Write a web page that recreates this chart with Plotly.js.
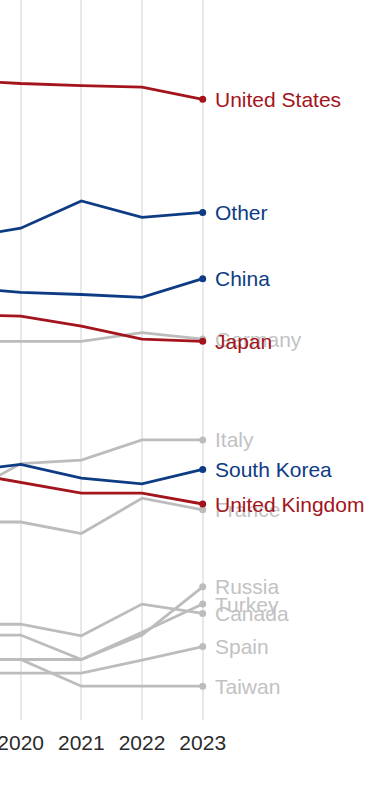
<!DOCTYPE html>
<html>
<head>
<meta charset="utf-8">
<script src="https://cdn.plot.ly/plotly-3.0.1.min.js"></script>
<style>html,body{margin:0;padding:0;background:#fff;}#chart{width:379px;height:800px;}</style>
</head>
<body>
<div id="chart"></div>
<script>
const years = [2019, 2020, 2021, 2022, 2023];
const tickYears = [2020, 2021, 2022, 2023];

// index values (higher = up)
const unitedStates = [88.9, 88.4, 88.1, 87.9, 86.2];
const other        = [66.9, 68.3, 72.1, 69.8, 70.5];
const china        = [60.1, 59.4, 59.1, 58.7, 61.3];
const japan        = [56.3, 56.1, 54.7, 52.9, 52.6];
const germany      = [52.6, 52.6, 52.6, 53.8, 52.9];
const italy        = [31.0, 35.6, 36.1, 38.9, 38.9];
const southKorea   = [34.5, 35.5, 33.6, 32.8, 34.8];
const unitedKingdom= [34.5, 33.0, 31.5, 31.5, 30.0];
const france       = [27.5, 27.5, 25.9, 30.8, 29.2];
const russia       = [11.8, 11.8, 8.4, 11.8, 18.5];
const turkey       = [8.4, 8.4, 8.4, 12.2, 16.1];
const canada       = [13.3, 13.3, 11.7, 16.1, 14.8];
const spain        = [6.5, 6.5, 6.5, 8.3, 10.2];
const taiwan       = [8.4, 8.4, 4.7, 4.7, 4.7];

const RED = '#a3141c', BLUE = '#0d3c84', GRAY = '#bcbcbc', GRAYTXT = '#c2c2c2';

const series = [
  {name: 'Germany', y: germany, c: GRAY, t: GRAYTXT},
  {name: 'Italy', y: italy, c: GRAY, t: GRAYTXT},
  {name: 'France', y: france, c: GRAY, t: GRAYTXT},
  {name: 'Russia', y: russia, c: GRAY, t: GRAYTXT},
  {name: 'Turkey', y: turkey, c: GRAY, t: GRAYTXT},
  {name: 'Canada', y: canada, c: GRAY, t: GRAYTXT},
  {name: 'Spain', y: spain, c: GRAY, t: GRAYTXT},
  {name: 'Taiwan', y: taiwan, c: GRAY, t: GRAYTXT},
  {name: 'Other', y: other, c: BLUE, t: BLUE},
  {name: 'China', y: china, c: BLUE, t: BLUE},
  {name: 'South Korea', y: southKorea, c: BLUE, t: BLUE},
  {name: 'United States', y: unitedStates, c: RED, t: RED},
  {name: 'Japan', y: japan, c: RED, t: RED},
  {name: 'United Kingdom', y: unitedKingdom, c: RED, t: RED}
];

const traces = [];
const annotations = [];
series.forEach(s => {
  traces.push({
    x: years, y: s.y, type: 'scatter', mode: 'lines',
    line: {color: s.c, width: 2.8}, hoverinfo: 'skip', cliponaxis: true
  });
  traces.push({
    x: [years[years.length - 1]], y: [s.y[s.y.length - 1]], type: 'scatter', mode: 'markers',
    marker: {color: s.c, size: 7}, hoverinfo: 'skip', cliponaxis: false
  });
  annotations.push({
    x: years[years.length - 1], y: s.y[s.y.length - 1], xref: 'x', yref: 'y',
    text: s.name, showarrow: false, xanchor: 'left', yanchor: 'middle', xshift: 10,
    font: {family: 'Liberation Sans, Arial, sans-serif', size: 21, color: s.t}
  });
});

const layout = {
  width: 379, height: 800,
  margin: {l: 0, r: 0, t: 0, b: 80, pad: 0},
  paper_bgcolor: '#fff', plot_bgcolor: '#fff',
  showlegend: false,
  xaxis: {
    range: [2019.659, 2025.906],
    tickvals: tickYears, ticktext: tickYears.map(String),
    showgrid: true, gridcolor: '#e8e8e8', gridwidth: 2,
    zeroline: false, showline: false, ticks: '',
    ticklabeloverflow: 'allow', ticklabelstandoff: 8,
    tickfont: {family: 'Liberation Sans, Arial, sans-serif', size: 21, color: '#2b2b2b'}
  },
  yaxis: {
    range: [0, 100], visible: false, showgrid: false, zeroline: false
  },
  annotations: annotations
};

Plotly.newPlot('chart', traces, layout, {staticPlot: true, displayModeBar: false});
</script>
</body>
</html>
